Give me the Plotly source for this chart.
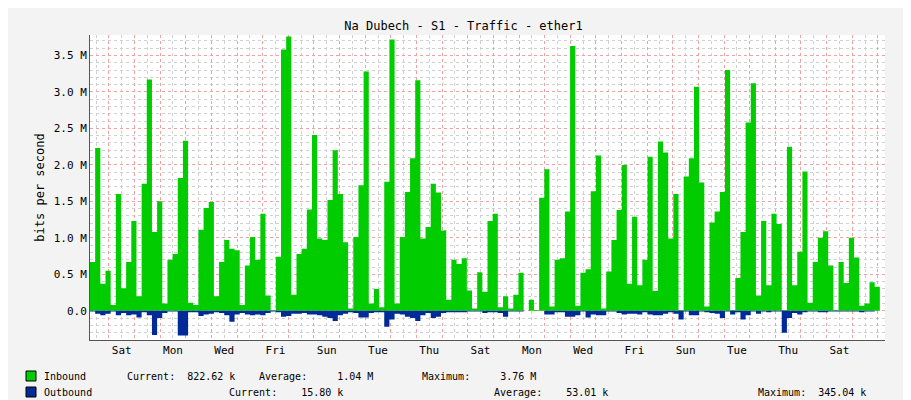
import pandas as pd
import plotly.graph_objects as go

# inbound / outbound traffic, Mbit/s, one sample every ~4.8 h
inbound = [
    0.67, 2.23, 0.37, 0.55, 0.08, 1.60, 0.31, 0.67, 1.23, 0.20,
    1.74, 3.17, 1.08, 1.50, 0.10, 0.70, 0.78, 1.82, 2.33, 0.11,
    0.08, 1.11, 1.41, 1.49, 0.20, 0.67, 0.97, 0.85, 0.83, 0.08,
    0.62, 1.01, 0.70, 1.33, 0.21, 0.01, 0.74, 3.58, 3.76,
    0.22, 0.78, 0.85, 1.39, 2.41, 0.99, 0.97, 1.52, 2.20, 1.60,
    0.94, 0.03, 1.01, 1.72, 3.28, 0.10, 0.30, 0.05, 1.77, 3.72,
    0.10, 1.01, 1.63, 2.09, 3.16, 0.99, 1.15, 1.74, 1.62, 1.10,
    0.15, 0.70, 0.64, 0.72, 0.28, 0.03, 0.53, 0.26, 1.23,
    1.33, 0.05, 0.20, 0.03, 0.22, 0.52, 0.00, 0.15, 0.01, 1.55,
    1.94, 0.06, 0.70, 0.72, 1.36, 3.63, 0.07, 0.52, 0.57, 1.64,
    2.13, 0.03, 0.54, 0.97, 1.38, 2.00, 0.37, 1.29, 0.35, 0.70,
    2.11, 0.27, 2.32, 2.17, 0.99, 1.60, 0.01, 1.84,
    2.09, 3.07, 1.76, 0.06, 1.21, 1.36, 1.63, 3.30, 0.01, 0.45,
    1.08, 2.58, 3.12, 0.21, 1.23, 0.35, 1.33, 1.19, 0.01, 2.25,
    0.35, 0.81, 1.91, 0.11, 0.67, 1.00, 1.09, 0.62, 0.01, 0.67,
    0.38, 1.00, 0.73, 0.07, 0.10, 0.39, 0.33, 0.82,
]
outbound = [
    0.01, 0.04, 0.06, 0.04, 0.01, 0.06, 0.03, 0.06, 0.05, 0.09,
    0.02, 0.06, 0.33, 0.10, 0.03, 0.01, 0.01, 0.34, 0.34, 0.02,
    0.02, 0.07, 0.05, 0.04, 0.02, 0.03, 0.06, 0.15, 0.05, 0.03,
    0.05, 0.06, 0.05, 0.06, 0.03, 0.01, 0.02, 0.08, 0.07,
    0.04, 0.04, 0.03, 0.05, 0.05, 0.06, 0.08, 0.10, 0.14, 0.06,
    0.04, 0.02, 0.03, 0.09, 0.09, 0.03, 0.02, 0.02, 0.22, 0.12,
    0.04, 0.05, 0.08, 0.10, 0.14, 0.06, 0.03, 0.10, 0.08, 0.03,
    0.02, 0.02, 0.02, 0.02, 0.01, 0.01, 0.01, 0.03,
    0.02, 0.02, 0.03, 0.08, 0.01, 0.01, 0.01, 0.00, 0.00, 0.00,
    0.00, 0.05, 0.05, 0.02, 0.02, 0.08, 0.08, 0.06, 0.01, 0.09,
    0.05, 0.06, 0.06, 0.01, 0.01, 0.03, 0.05, 0.04, 0.04, 0.05,
    0.02, 0.05, 0.06, 0.06, 0.04, 0.02, 0.04, 0.12,
    0.01, 0.06, 0.06, 0.01, 0.02, 0.03, 0.04, 0.10, 0.01, 0.05,
    0.02, 0.12, 0.06, 0.01, 0.04, 0.01, 0.02, 0.01, 0.01, 0.30,
    0.10, 0.03, 0.05, 0.02, 0.01, 0.01, 0.02, 0.02, 0.01, 0.01,
    0.01, 0.01, 0.01, 0.01, 0.02, 0.01, 0.01, 0.02,
]
y_ticks = [0, 0.5, 1.0, 1.5, 2.0, 2.5, 3.0, 3.5]
y_labels = ["0.0", "0.5 M", "1.0 M", "1.5 M", "2.0 M", "2.5 M", "3.0 M", "3.5 M"]
day_names = ["Sat", "Mon", "Wed", "Fri", "Sun", "Tue", "Thu",
             "Sat", "Mon", "Wed", "Fri", "Sun", "Tue", "Thu", "Sat"]

times = pd.date_range("2024-03-01 06:20", periods=len(inbound), freq="290min")
end = times[-1] + pd.Timedelta(minutes=290)
label_pos = pd.date_range("2024-03-02 12:00", periods=len(day_names), freq="2D")

mono = "DejaVu Sans Mono"
L, R, T, B = 82, 34, 27, 68
PW, PH = 911 - L - R, 400 - T - B

fig = go.Figure()
fig.add_trace(go.Scatter(x=times, y=inbound, mode="lines", line=dict(shape="hv", width=0, color="#00CC00"),
                         fill="tozeroy", fillcolor="#00CC00", name="Inbound"))
fig.add_trace(go.Scatter(x=times, y=[-v for v in outbound], mode="lines",
                         line=dict(shape="hv", width=0, color="#002A97"),
                         fill="tozeroy", fillcolor="#002A97", name="Outbound"))
# daily red grid on an overlay axis
fig.add_trace(go.Scatter(x=[times[0], end], y=[None, None], xaxis="x2", showlegend=False))

fig.update_layout(
    width=911, height=400, showlegend=False,
    paper_bgcolor="#F3F3F3", plot_bgcolor="white",
    margin=dict(l=L, r=R, t=T, b=B),
    font=dict(family=mono, size=11, color="#000000"),
    title=dict(text="Na Dubech - S1 - Traffic - ether1", x=0.5, xanchor="center", y=0.965,
               font=dict(family=mono, size=12)),
    xaxis=dict(type="date", range=[times[0], end], tickmode="array", tickvals=label_pos,
               ticktext=day_names, showgrid=False, ticks="", showline=True, linecolor="#555555",
               minor=dict(dtick=43200000, tick0="2024-03-01 12:00", showgrid=True,
                          gridcolor="#D0D0D0", griddash="dot", ticks="")),
    xaxis2=dict(type="date", overlaying="x", range=[times[0], end], dtick=86400000,
                tick0="2024-03-01 00:00", showgrid=True, gridcolor="#F0A0A0", griddash="dot",
                showticklabels=False, ticks=""),
    yaxis=dict(range=[-0.40, 3.78], tickmode="array", tickvals=y_ticks, ticktext=y_labels,
               showgrid=True, gridcolor="#F0A0A0", griddash="dot", zeroline=False,
               showline=True, linecolor="#555555", ticks="",
               title=dict(text="bits per second", font=dict(family=mono, size=12), standoff=6),
               minor=dict(dtick=0.1, showgrid=True, gridcolor="#D0D0D0", griddash="dot")),
)


def px(x):
    return (x - L) / PW


def py(y):
    return (400 - B - y) / PH


fig.add_annotation(text="RRDTOOL / TOBI OETIKER", textangle=90, x=px(903), xref="paper", xanchor="center",
                   y=py(4), yref="paper", yanchor="top", showarrow=False,
                   font=dict(family=mono, size=7, color="#999999"))

legend_rows = [
    (368, "#00CC00", [(34, "Inbound"), (117, "Current:  822.62 k"),
                      (249, "Average:     1.04 M"), (412, "Maximum:     3.76 M")]),
    (384, "#002A97", [(34, "Outbound"), (219, "Current:    15.80 k"),
                      (484, "Average:    53.01 k"), (748, "Maximum:  345.04 k")]),
]
for ypix, color, parts in legend_rows:
    fig.add_shape(type="rect", xref="paper", yref="paper", x0=px(18), x1=px(28),
                  y0=py(ypix + 5), y1=py(ypix - 5),
                  fillcolor=color, line=dict(color="#000000", width=1))
    for xp, txt in parts:
        fig.add_annotation(text=txt, x=px(xp), xref="paper", xanchor="left",
                           y=py(ypix), yref="paper", yanchor="middle", showarrow=False,
                           font=dict(family=mono, size=10))

fig.write_html("out.html")
